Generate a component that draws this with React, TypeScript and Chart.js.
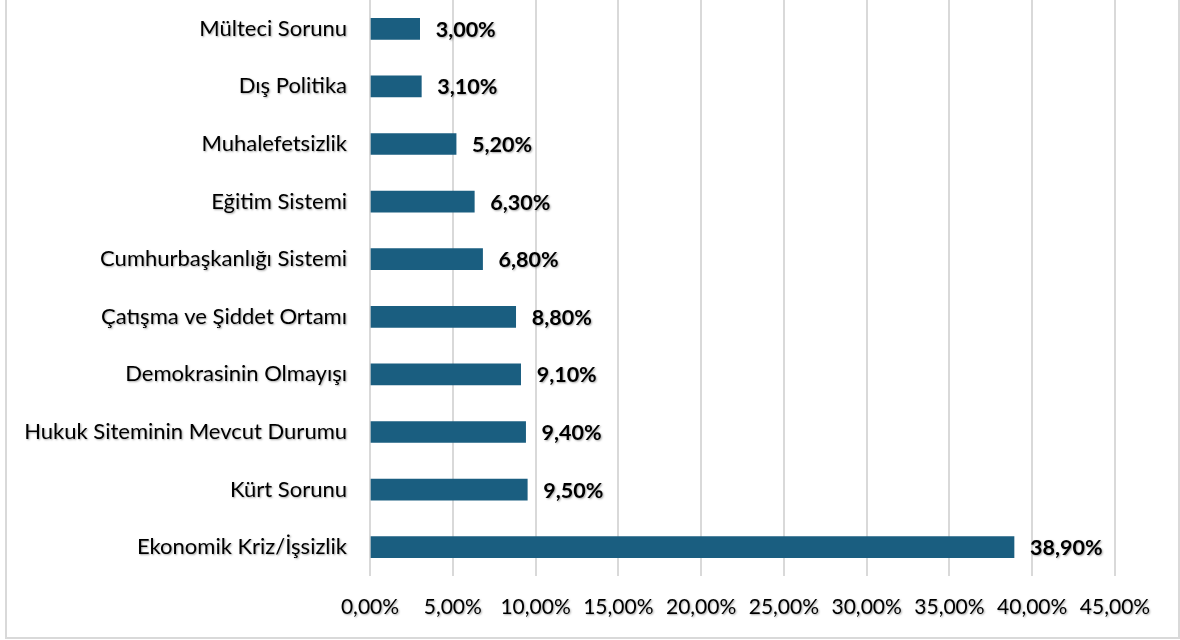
import React, { useEffect, useRef } from "react";
import { Chart, registerables } from "chart.js";

Chart.register(...registerables);

const categories = [
  "Mülteci Sorunu",
  "Dış Politika",
  "Muhalefetsizlik",
  "Eğitim Sistemi",
  "Cumhurbaşkanlığı Sistemi",
  "Çatışma ve Şiddet Ortamı",
  "Demokrasinin Olmayışı",
  "Hukuk Siteminin Mevcut Durumu",
  "Kürt Sorunu",
  "Ekonomik Kriz/İşsizlik",
];
const values = [3.0, 3.1, 5.2, 6.3, 6.8, 8.8, 9.1, 9.4, 9.5, 38.9];
const xTicks = [0, 5, 10, 15, 20, 25, 30, 35, 40, 45];

const fmt = (v: number) => v.toFixed(2).replace(".", ",") + "%";

const FONT = "Lato, 'Open Sans', sans-serif";

export default function App() {
  const ref = useRef<HTMLCanvasElement>(null);
  useEffect(() => {
    if (!ref.current) return;
    const textPlugin = {
      id: "texts",
      beforeDraw(chart: any) {
        const c = chart.ctx;
        c.save();
        c.strokeStyle = "#d9d9d9";
        c.lineWidth = 2;
        c.strokeRect(6, -10, 1173, 648);
        c.restore();
      },
      afterDraw(chart: any) {
        const c = chart.ctx;
        const xs = chart.scales.x;
        const ys = chart.scales.y;
        c.save();
        c.shadowColor = "rgba(0,0,0,0.35)";
        c.shadowOffsetX = 1;
        c.shadowOffsetY = 1;
        c.shadowBlur = 2;
        c.fillStyle = "#000";
        c.textBaseline = "middle";
        c.font = `22px ${FONT}`;
        c.textAlign = "right";
        categories.forEach((cat, i) => {
          c.fillText(cat, xs.left - 23, ys.getPixelForValue(i));
        });
        c.font = `21px ${FONT}`;
        c.textAlign = "center";
        xTicks.forEach((t) => {
          c.fillText(fmt(t), xs.getPixelForValue(t), 607);
        });
        c.font = `bold 21.5px ${FONT}`;
        c.textAlign = "left";
        values.forEach((v, i) => {
          c.fillText(fmt(v), xs.getPixelForValue(v) + 16, ys.getPixelForValue(i) + 1);
        });
        c.restore();
      },
    };
    const chart = new Chart(ref.current, {
      type: "bar",
      data: {
        labels: categories,
        datasets: [
          {
            data: values,
            backgroundColor: "#1a5e80",
            barThickness: 21,
          },
        ],
      },
      options: {
        indexAxis: "y",
        animation: false,
        responsive: false,
        devicePixelRatio: 1,
        layout: { padding: { left: 0, top: 0, right: 65, bottom: 0 } },
        plugins: { legend: { display: false }, tooltip: { enabled: false } },
        scales: {
          x: {
            min: 0,
            max: 45,
            afterBuildTicks: (s: any) => {
              s.ticks = xTicks.map((v) => ({ value: v }));
            },
            afterFit: (s: any) => {
              s.height = 64;
            },
            ticks: { display: false },
            grid: { color: "#d9d9d9", lineWidth: 2, drawTicks: false },
            border: { display: false },
          },
          y: {
            afterFit: (s: any) => {
              s.width = 370;
            },
            ticks: { display: false },
            grid: { display: false, drawTicks: false },
            border: { display: false },
          },
        },
      },
      plugins: [textPlugin],
    } as any);
    return () => chart.destroy();
  }, []);
  return (
    <div style={{ position: "fixed", left: 0, top: 0, width: 1180, height: 640, background: "#fff" }}>
      <canvas ref={ref} width={1180} height={640} style={{ width: 1180, height: 640 }} />
    </div>
  );
}
